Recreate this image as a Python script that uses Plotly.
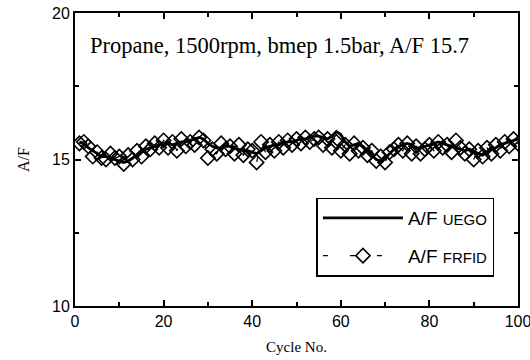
import plotly.graph_objects as go

cycles = list(range(1, 101))

af_uego = [15.6, 15.55, 15.4, 15.3, 15.2, 15.1, 15.1, 15.05, 15.0, 14.95,
           14.9, 14.95, 15.05, 15.15, 15.25, 15.35, 15.4, 15.45, 15.5, 15.55,
           15.55, 15.5, 15.55, 15.6, 15.6, 15.65, 15.7, 15.75, 15.7, 15.55,
           15.45, 15.4, 15.4, 15.45, 15.45, 15.4, 15.35, 15.3, 15.3, 15.25,
           15.2, 15.3, 15.4, 15.45, 15.5, 15.5, 15.55, 15.6, 15.6, 15.65,
           15.7, 15.7, 15.75, 15.8, 15.8, 15.75, 15.7, 15.8, 15.95, 15.85,
           15.6, 15.45, 15.5, 15.55, 15.45, 15.3, 15.15, 15.0, 14.95, 15.05,
           15.2, 15.35, 15.45, 15.5, 15.55, 15.5, 15.4, 15.4, 15.45, 15.5,
           15.55, 15.6, 15.55, 15.5, 15.45, 15.4, 15.35, 15.3, 15.35, 15.3,
           15.2, 15.15, 15.25, 15.35, 15.4, 15.5, 15.55, 15.6, 15.65, 15.7]

af_frfid = [15.55, 15.6, 15.45, 15.1, 15.25, 15.05, 15.0, 15.2, 15.05, 15.1,
            14.85, 15.15, 15.0, 15.3, 15.1, 15.45, 15.35, 15.55, 15.4, 15.65,
            15.4, 15.6, 15.3, 15.7, 15.45, 15.6, 15.5, 15.75, 15.65, 15.05,
            15.35, 15.2, 15.55, 15.35, 15.45, 15.2, 15.5, 15.15, 15.35, 15.3,
            14.9, 15.6, 15.25, 15.5, 15.3, 15.6, 15.4, 15.65, 15.5, 15.7,
            15.55, 15.75, 15.6, 15.7, 15.75, 15.5, 15.7, 15.4, 15.6, 15.3,
            15.5, 15.2, 15.55, 15.3, 15.4, 15.15, 15.3, 14.95, 15.1, 14.9,
            15.25, 15.35, 15.5, 15.3, 15.55, 15.2, 15.45, 15.2, 15.35, 15.5,
            15.3, 15.6, 15.4, 15.5, 15.25, 15.65, 15.4, 15.2, 15.35, 15.0,
            15.3, 15.1, 15.4, 15.2, 15.5, 15.3, 15.6, 15.45, 15.7, 15.55]

x_ticks = [0, 20, 40, 60, 80, 100]
y_ticks = [10, 15, 20]
note = "Propane, 1500rpm, bmep 1.5bar, A/F 15.7"

fig = go.Figure()
fig.add_trace(go.Scatter(
    x=cycles, y=af_uego, mode="lines",
    name="A/F <span style='font-size:15px'>UEGO</span>",
    line=dict(color="black", width=2.8),
    legendgroup="a",
))
fig.add_trace(go.Scatter(
    x=cycles, y=af_frfid, mode="lines+markers",
    name="A/F <span style='font-size:15px'>FRFID</span>",
    line=dict(color="black", width=1.2, dash="5px,22px"),
    marker=dict(symbol="diamond-open", size=11, color="black",
                line=dict(width=1.6, color="black")),
    legendgroup="b",
))

axis_common = dict(
    showline=True, linecolor="black", linewidth=2, mirror="ticks",
    ticks="inside", ticklen=6, tickwidth=2, tickcolor="black",
    showgrid=False, zeroline=False, ticklabeloverflow="allow",
    tickfont=dict(family="Liberation Sans, Arial", size=16, color="black"),
)

fig.update_xaxes(
    range=[0, 100], tickvals=x_ticks, ticktext=[str(v) for v in x_ticks],
    minor=dict(dtick=10, tick0=0, ticks="inside", ticklen=4, tickwidth=2, tickcolor="black"),
    title=dict(text="Cycle No.", font=dict(family="Liberation Serif, Times New Roman", size=15, color="black"), standoff=12),
    **axis_common,
)
fig.update_yaxes(
    range=[10, 20], tickvals=y_ticks, ticktext=[str(v) for v in y_ticks],
    minor=dict(dtick=2.5, tick0=10, ticks="inside", ticklen=4, tickwidth=2, tickcolor="black"),
    title=dict(text="A/F", font=dict(family="Liberation Serif, Times New Roman", size=16, color="black"), standoff=18),
    **axis_common,
)

fig.add_annotation(
    x=0.03, y=0.89, xref="paper", yref="paper", xanchor="left", yanchor="middle",
    text=note, showarrow=False,
    font=dict(family="Liberation Serif, Times New Roman", size=22.5, color="black"),
)

fig.update_layout(
    width=530, height=360,
    margin=dict(l=75, r=12, t=13, b=54, autoexpand=False),
    paper_bgcolor="white", plot_bgcolor="white",
    showlegend=True,
    legend=dict(
        x=0.545, y=0.37, xanchor="left", yanchor="top",
        bordercolor="black", borderwidth=1.5, bgcolor="white",
        font=dict(family="Liberation Sans, Arial", size=19, color="black"),
        tracegroupgap=10, itemwidth=80,
    ),
)

fig.write_html("out.html", config={"displayModeBar": False},
               post_script="document.body.style.margin='0px';")
